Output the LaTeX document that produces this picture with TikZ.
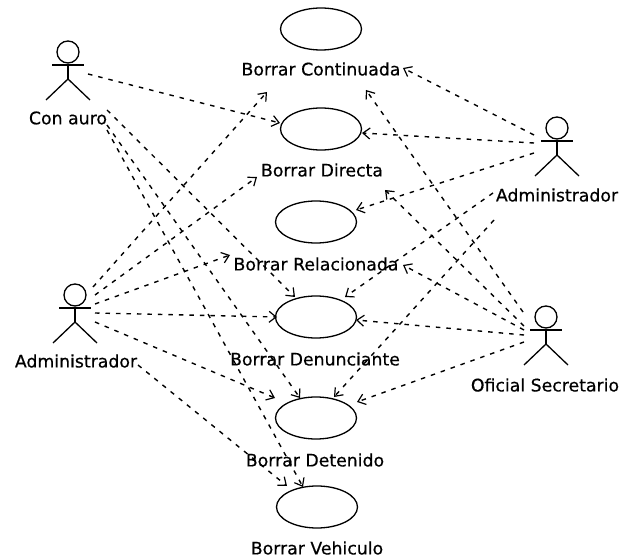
\documentclass[tikz,border=0pt]{standalone}
\usepackage{fontspec}
\setmainfont{DejaVu Sans}[FakeBold=0.5]
\usetikzlibrary{arrows.meta,shapes.geometric}
\tikzset{
  usecase/.style={draw,line width=1.3pt,ellipse,inner sep=0pt},
  lbl/.style={font=\fontsize{17.3}{19}\selectfont,inner sep=0pt,text=black},
  head/.style={draw,line width=1.3pt,circle,minimum size=22pt,inner sep=0pt},
  limb/.style={line width=1.3pt},
  dep/.style={line width=1.4pt,dash pattern=on 4.5pt off 6pt,-{Straight Barb[length=7pt,width=11pt,line width=1.2pt]}}
}
\newcommand{\stick}[3]{%
  \node[head] (#1) at (#2,#3) {};
  \coordinate (#1hip) at (#2,#3+27);
  \coordinate (#1la) at (#2-16,#3+13);
  \coordinate (#1ra) at (#2+16,#3+13);
  \coordinate (#1lf) at (#2-22,#3+48);
  \coordinate (#1rf) at (#2+22,#3+48);
  \draw[limb] (#1.south) -- (#1hip);
  \draw[limb] (#1la) -- (#1ra);
  \draw[limb] (#1lf) -- (#1hip) -- (#1rf);
}
\newcommand{\uc}[3]{\node[usecase,minimum width=81pt,minimum height=42pt] (#1) at (#2,#3) {};}
\newcommand{\dep}[5]{%
  \coordinate (#1s) at (#2,#3);
  \coordinate (#1t) at (#4,#5);
  \draw[dep] (#1s) -- (#1t);
}
\begin{document}
\begin{tikzpicture}[x=1pt,y=-1pt]
\useasboundingbox (0,0) rectangle (622,559);
\uc{e1}{321}{29}
\uc{e2}{321}{129}
\uc{e3}{316}{222}
\uc{e4}{316}{317}
\uc{e5}{316}{418}
\uc{e6}{317}{507}
\node[lbl] (l1) at (321,69) {Borrar Continuada};
\node[lbl] (l2) at (322,170) {Borrar Directa};
\node[lbl] (l3) at (316,264) {Borrar Relacionada};
\node[lbl] (l4) at (315,359) {Borrar Denunciante};
\node[lbl] (l5) at (315,460) {Borrar Detenido};
\node[lbl] (l6) at (317,548) {Borrar Vehiculo};
\stick{a1}{68}{52}
\stick{a2}{557}{128}
\stick{a3}{75}{295}
\stick{a4}{546}{317}
\node[lbl] (n1) at (68,118) {Con auro};
\node[lbl] (n2) at (557,195) {Administrador};
\node[lbl] (n3) at (76,361) {Administrador};
\node[lbl] (n4) at (545,385) {Oficial Secretario};
% Conauro
\dep{c1}{88}{74}{280}{123}
\dep{c2}{107}{110}{295}{297}
\dep{c3}{107}{125}{300}{398}
\dep{c4}{107}{130}{303}{487}
% left Administrador
\dep{b1}{93}{287}{267}{92}
\dep{b2}{95}{295}{257}{177}
\dep{b3}{95}{304}{230}{255}
\dep{b4}{95}{313}{277}{317}
\dep{b5}{95}{322}{275}{398}
\dep{b6}{138}{365}{287}{486}
% right Administrador
\dep{d1}{534}{135}{403}{68}
\dep{d2}{534}{143}{362}{133}
\dep{d3}{534}{153}{356}{210}
\dep{d4}{493}{193}{345}{297}
\dep{d5}{494}{220}{334}{397}
% Oficial Secretario
\dep{f1}{523}{312}{366}{90}
\dep{f2}{524}{326}{385}{190}
\dep{f3}{524}{330}{403}{265}
\dep{f4}{524}{335}{356}{320}
\dep{f5}{524}{342}{357}{402}
\end{tikzpicture}
\end{document}
